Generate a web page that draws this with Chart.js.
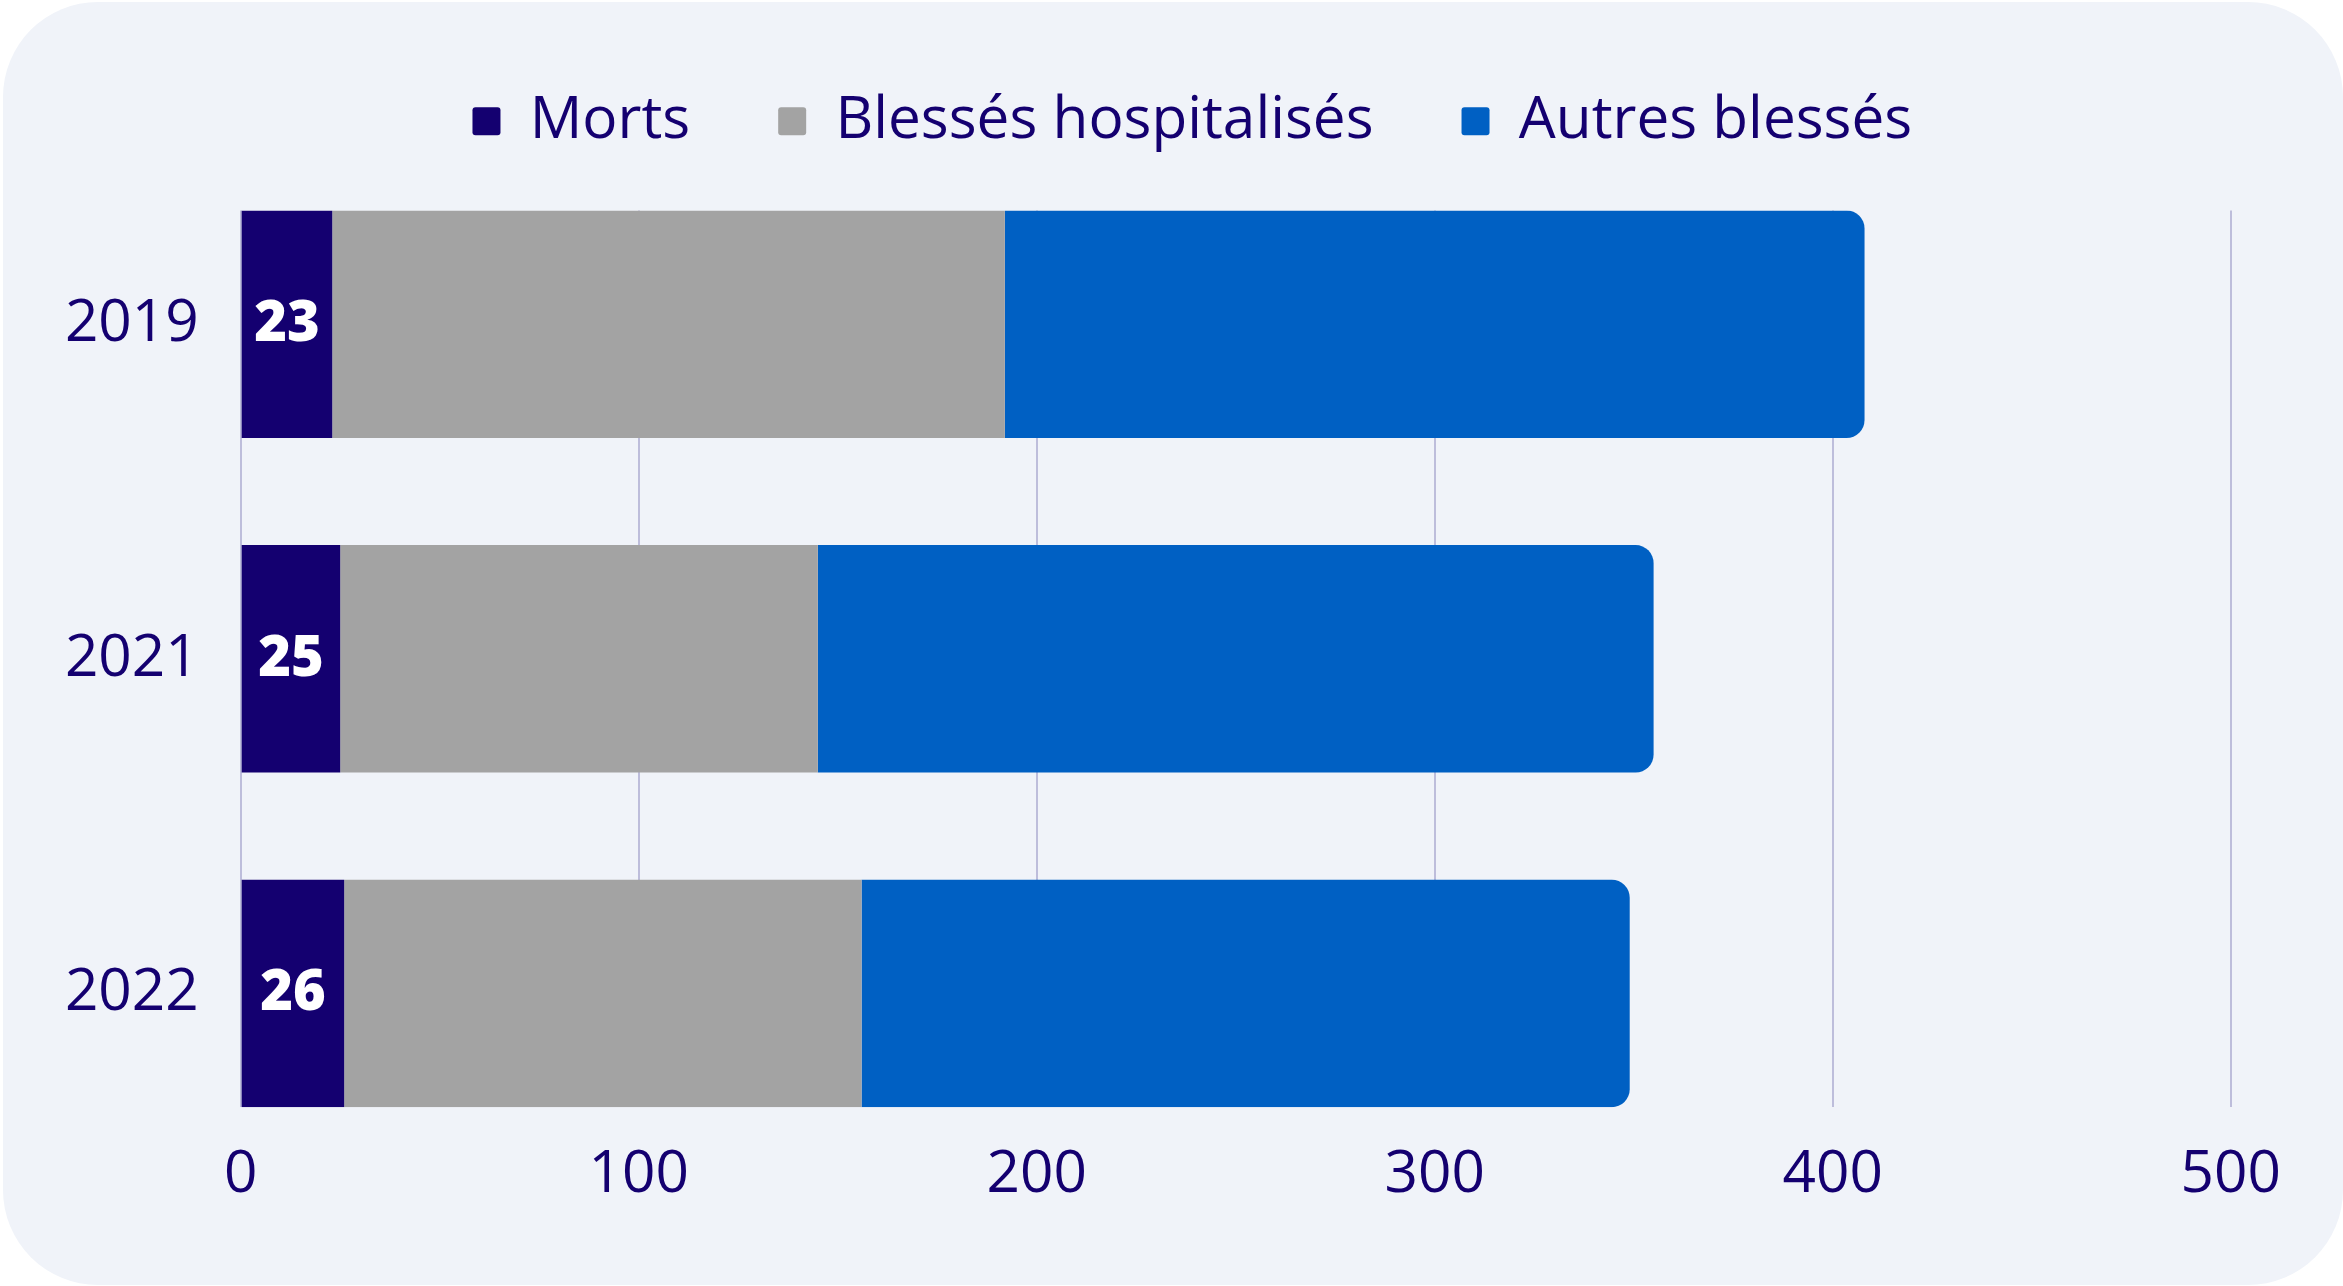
<!DOCTYPE html>
<html lang="fr">
<head>
<meta charset="utf-8">
<script src="https://cdn.jsdelivr.net/npm/chart.js@4.4.1/dist/chart.umd.min.js"></script>
<style>
  html, body { margin: 0; padding: 0; background: #ffffff; }
  #wrap { position: relative; width: 2343px; height: 1286px; overflow: hidden; }
  #panel { position: absolute; left: 3px; top: 2px; width: 2340px; height: 1283px; background: #f0f3f9; border-radius: 95px; }
  #c { position: absolute; left: 0; top: 0; }
</style>
</head>
<body>
<div id="wrap">
  <div id="panel"></div>
  <canvas id="c" width="2343" height="1286"></canvas>
</div>
<script>
// ---- Data ----
const categories = ['2019', '2021', '2022'];
const morts = [23, 25, 26];
const blessesHospitalises = [169, 120, 130];
const autresBlesses = [216, 210, 193];
const xTicks = [0, 100, 200, 300, 400, 500];
const seriesNames = ['Morts', 'Blessés hospitalisés', 'Autres blessés'];

const TEXT = '#140070';
const FONT = "'Open Sans', 'Noto Sans', sans-serif";
const FS = 58.5;

const toPoints = arr => arr.map((v, i) => ({ x: v, y: i }));

const Y_MIN = -0.34, Y_MAX = categories.length - 1 + 0.34;

const legendSpacer = {
  id: 'legendSpacer',
  beforeInit(chart) {
    const orig = chart.legend.fit;
    chart.legend.fit = function () {
      orig.bind(chart.legend)();
      this.height += 50;
    };
  },
  afterLayout(chart) {
    chart.legend.left = 154;
  }
};

const valueLabels = {
  id: 'valueLabels',
  afterDatasetsDraw(chart) {
    const ctx = chart.ctx;
    const meta = chart.getDatasetMeta(0);
    ctx.save();
    ctx.fillStyle = '#ffffff';
    ctx.font = "800 56px " + FONT;
    ctx.textAlign = 'center';
    ctx.textBaseline = 'middle';
    meta.data.forEach((el, i) => {
      const cx = (el.x + el.base) / 2;
      ctx.fillText(String(morts[i]), cx, el.y + 1);
    });
    ctx.restore();
  }
};

new Chart(document.getElementById('c'), {
  type: 'bar',
  data: {
    datasets: [
      { label: seriesNames[0], data: toPoints(morts), backgroundColor: '#140070', borderRadius: 0 },
      { label: seriesNames[1], data: toPoints(blessesHospitalises), backgroundColor: '#a3a3a3', borderRadius: 0 },
      { label: seriesNames[2], data: toPoints(autresBlesses), backgroundColor: '#0060c3',
        borderRadius: 18, borderSkipped: 'start' }
    ]
  },
  options: {
    indexAxis: 'y',
    responsive: false,
    animation: false,
    devicePixelRatio: 1,
    categoryPercentage: 1,
    barPercentage: 0.68,
    layout: { padding: { left: 0, right: 112.3, top: 4, bottom: 43.4 } },
    plugins: {
      tooltip: { enabled: false },
      legend: {
        position: 'top',
        align: 'center',
        labels: {
          color: TEXT,
          font: { family: FONT, size: FS },
          boxWidth: 28,
          boxHeight: 28,
          useBorderRadius: true,
          borderRadius: 3,
          padding: 88
        }
      }
    },
    scales: {
      x: {
        type: 'linear',
        stacked: true,
        min: 0,
        max: 500,
        afterBuildTicks: s => { s.ticks = xTicks.map(v => ({ value: v })); },
        ticks: { color: TEXT, font: { family: FONT, size: FS }, padding: 32.6, maxRotation: 0 },
        grid: { color: '#bdbddb', lineWidth: 2, drawTicks: false },
        border: { display: false }
      },
      y: {
        type: 'linear',
        stacked: true,
        reverse: true,
        offset: false,
        bounds: 'data',
        min: Y_MIN,
        max: Y_MAX,
        afterBuildTicks: s => {
          s.ticks = categories.map((c, i) => ({ value: i }));
          s.min = Y_MIN;
          s.max = Y_MAX;
        },
        afterFit: s => { s.width = 240.7; },
        ticks: {
          color: TEXT,
          font: { family: FONT, size: FS },
          padding: 42,
          includeBounds: false,
          callback: v => categories[v] !== undefined ? categories[v] : ''
        },
        grid: { display: false, drawTicks: false, offset: false },
        border: { display: false }
      }
    }
  },
  plugins: [legendSpacer, valueLabels]
});
</script>
</body>
</html>
